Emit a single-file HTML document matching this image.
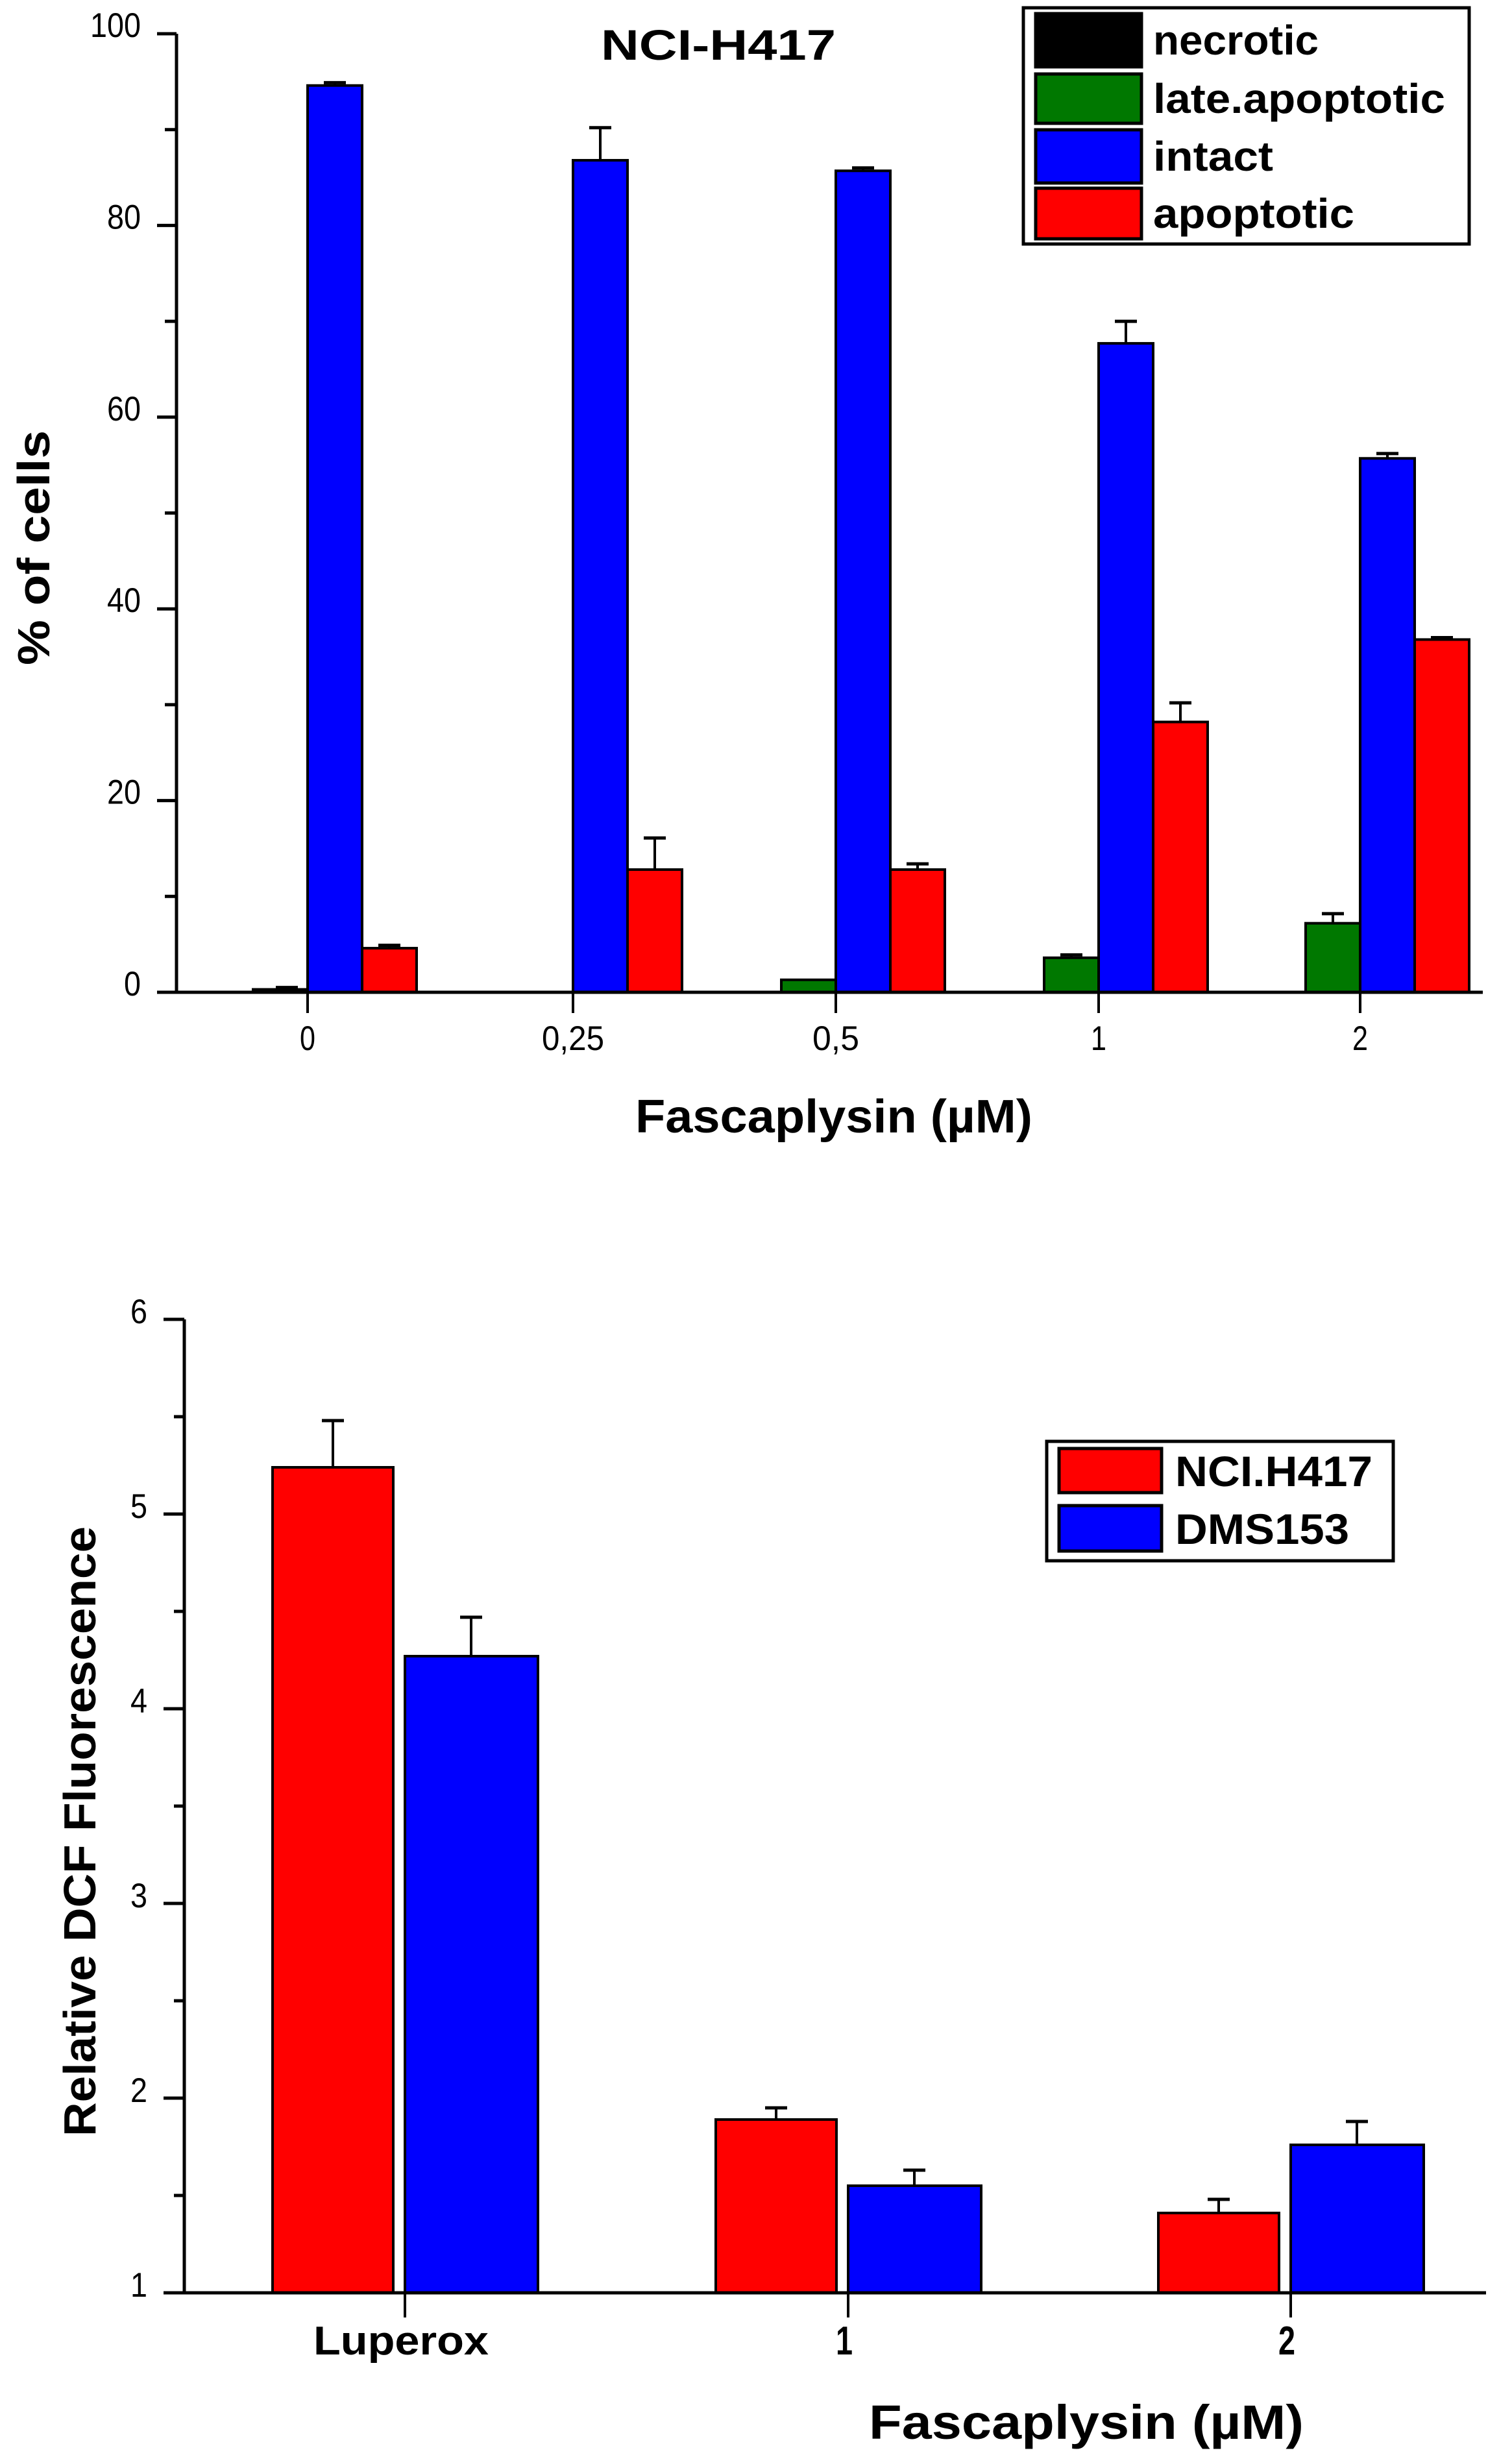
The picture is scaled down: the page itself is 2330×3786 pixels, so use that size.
<!DOCTYPE html>
<html><head><meta charset="utf-8"><style>
html,body{margin:0;padding:0;background:#fff;}
svg{display:block;}
text{font-family:"Liberation Sans",Arial,sans-serif;fill:#000;}
</style></head><body>
<svg id="s" width="2330" height="3786" viewBox="0 0 2330 3786" xmlns="http://www.w3.org/2000/svg">
<g id="c1"></g>
<g id="c2"></g>
</svg>
<script>
// Chart 1 data
const cats1 = ["0","0,25","0,5","1","2"];
const necrotic = [0.3,0,0,0,0];
const necroticErr = [0.2,0,0,0,0];
const late = [0,0,1.3,3.6,7.2];
const lateErr = [0,0,0,0.3,1.0];
const intact = [94.6,86.8,85.7,67.7,55.7];
const intactErr = [0.3,3.4,0.3,2.3,0.5];
const apopt = [4.6,12.8,12.8,28.2,36.8];
const apoptErr = [0.3,3.3,0.6,2.0,0.2];
const yTicks1 = [0,20,40,60,80,100];
// Chart 2 data
const cats2 = ["Luperox","1","2"];
const nci = [5.24,1.89,1.41];
const nciErr = [0.24,0.06,0.07];
const dms = [4.27,1.55,1.76];
const dmsErr = [0.2,0.08,0.12];
const yTicks2 = [1,2,3,4,5,6];

const NS="http://www.w3.org/2000/svg";
function mk(parent,tag,attrs,txt){const e=document.createElementNS(NS,tag);for(const k in attrs)e.setAttribute(k,attrs[k]);if(txt!==undefined)e.textContent=txt;parent.appendChild(e);return e;}

function errbar(g,cx,top,err,name,ys){
  if(err<=0) return;
  const t=ys(top), e=ys(top+err);
  const l=mk(g,'line',{x1:cx,x2:cx,y1:t,y2:e,stroke:'#000','stroke-width':4});
  
  
  const c=mk(g,'line',{x1:cx-17,x2:cx+17,y1:e,y2:e,stroke:'#000','stroke-width':5});
  
  
}
function bar(g,x,w,v,fill,name,ys,base){
  const t=ys(v), b=ys(base);
  const r=mk(g,'rect',{x:x,y:Math.min(t,b),width:w,height:Math.max(Math.abs(b-t),0.01),fill:fill,stroke:'#000','stroke-width':4});
  
  
}

// ---------- Chart 1 ----------
const g1=document.getElementById('c1');
const X0=272, XR=2285, Y0=1529, Y100=52;
const y1=v=>Y0-(v/100)*(Y0-Y100);
const tick1=[474,883,1288,1693,2096];
const BW=84;
cats1.forEach((c,i)=>{
  const t=tick1[i];
  if(late[i]>0){bar(g1,t-BW,BW,late[i],'#007800','bar-late-apoptotic-'+i,y1,0);errbar(g1,t-BW/2,late[i],lateErr[i],'late-apoptotic-'+i,y1);}
  if(necrotic[i]>0){bar(g1,t-BW,BW,necrotic[i],'#000','bar-necrotic-'+i,y1,0);errbar(g1,t-BW/2+10,necrotic[i],necroticErr[i],'necrotic-'+i,y1);}
  bar(g1,t,BW,intact[i],'#0000ff','bar-intact-'+i,y1,0);errbar(g1,t+BW/2,intact[i],intactErr[i],'intact-'+i,y1);
  bar(g1,t+BW,BW,apopt[i],'#ff0000','bar-apoptotic-'+i,y1,0);errbar(g1,t+BW*1.5,apopt[i],apoptErr[i],'apoptotic-'+i,y1);
  const tk=mk(g1,'line',{x1:t,x2:t,y1:Y0,y2:Y0+32,stroke:'#000','stroke-width':4});
  
  
  const lb=mk(g1,'text',{x:t,y:1618,'font-size':53,'text-anchor':'middle',textLength:c.length*24,lengthAdjust:'spacingAndGlyphs'},c);
  
  
});
for(let v=0;v<=100;v+=10){
  const major=v%20===0;
  const tk=mk(g1,'line',{x1:X0-(major?30:18),x2:X0,y1:y1(v),y2:y1(v),stroke:'#000','stroke-width':5});
  
  
}
yTicks1.forEach(v=>{
  const s=String(v);
  const lb=mk(g1,'text',{x:217,y:y1(v)+5,'font-size':53,'text-anchor':'end',textLength:s.length*26,lengthAdjust:'spacingAndGlyphs'},s);
  
  
});
{
const ax=mk(g1,'path',{d:`M${X0},${Y100} V${Y0} H${XR}`,fill:'none',stroke:'#000','stroke-width':5});


const tt=mk(g1,'text',{x:926,y:92,'font-size':66,'font-weight':'bold',textLength:362,lengthAdjust:'spacingAndGlyphs'},'NCI-H417');


const yt=mk(g1,'text',{x:0,y:0,'font-size':70,'font-weight':'bold',textLength:362,lengthAdjust:'spacingAndGlyphs','text-anchor':'middle',transform:'translate(76,844) rotate(-90)'},'% of cells');


const xt=mk(g1,'text',{x:979,y:1745,'font-size':72,'font-weight':'bold',textLength:612,lengthAdjust:'spacingAndGlyphs'},'Fascaplysin (µM)');


const lg=mk(g1,'g',{});


const lb=mk(lg,'rect',{x:1577,y:12,width:687,height:364,fill:'#fff',stroke:'#000','stroke-width':5});


const items=[['necrotic','#000',21,103,255],['late.apoptotic','#007800',114,190,450],['intact','#0000ff',200,282,185],['apoptotic','#ff0000',290,368,310]];
items.forEach(it=>{
  const sw=mk(lg,'rect',{x:1596,y:it[2],width:163,height:it[3]-it[2],fill:it[1],stroke:'#000','stroke-width':5});
  
  
  const tx=mk(lg,'text',{x:1777,y:(it[2]+it[3])/2+22,'font-size':64,'font-weight':'bold',textLength:it[4],lengthAdjust:'spacingAndGlyphs'},it[0]);
  
  
});
}

// ---------- Chart 2 ----------
const g2=document.getElementById('c2');
const AX=284, AR=2290, Y1=3533, Y6=2033;
const y2=v=>Y1-(v-1)/5*(Y1-Y6);
const tick2=[624,1307,1989];
cats2.forEach((c,i)=>{
  const t=tick2[i];
  bar(g2,t-204,186,nci[i],'#ff0000','bar-nci-h417-'+i,y2,1);errbar(g2,t-111,nci[i],nciErr[i],'nci-h417-'+i,y2);
  bar(g2,t,205,dms[i],'#0000ff','bar-dms153-'+i,y2,1);errbar(g2,t+102,dms[i],dmsErr[i],'dms153-'+i,y2);
  const tk=mk(g2,'line',{x1:t,x2:t,y1:Y1,y2:Y1+38,stroke:'#000','stroke-width':4});
  
  
  const lb=mk(g2,'text',{x:t-6,y:3628,'font-size':62,'font-weight':'bold','text-anchor':'middle',textLength:c.length>1?270:26,lengthAdjust:'spacingAndGlyphs'},c);
  
  
});
for(let v=1;v<=6;v+=0.5){
  const major=Number.isInteger(v);
  const tk=mk(g2,'line',{x1:AX-(major?32:16),x2:AX,y1:y2(v),y2:y2(v),stroke:'#000','stroke-width':5});
  
  
}
yTicks2.forEach(v=>{
  const lb=mk(g2,'text',{x:227,y:y2(v)+6,'font-size':53,'text-anchor':'end',textLength:26,lengthAdjust:'spacingAndGlyphs'},String(v));
  
  
});
{
const ax=mk(g2,'path',{d:`M${AX},${Y6} V${Y1} H${AR}`,fill:'none',stroke:'#000','stroke-width':5});


const yt=mk(g2,'text',{x:0,y:0,'font-size':70,'font-weight':'bold',textLength:940,lengthAdjust:'spacingAndGlyphs','text-anchor':'middle',transform:'translate(147,2822) rotate(-90)'},'Relative DCF Fluorescence');


const xt=mk(g2,'text',{x:1339,y:3758,'font-size':74,'font-weight':'bold',textLength:670,lengthAdjust:'spacingAndGlyphs'},'Fascaplysin (µM)');


const lg=mk(g2,'g',{});


const lb=mk(lg,'rect',{x:1613,y:2221,width:534,height:184,fill:'#fff',stroke:'#000','stroke-width':5});


[['NCI.H417','#ff0000',2232,2300,304],['DMS153','#0000ff',2320,2390,268]].forEach(it=>{
  const sw=mk(lg,'rect',{x:1632,y:it[2],width:158,height:it[3]-it[2],fill:it[1],stroke:'#000','stroke-width':5});
  
  
  const tx=mk(lg,'text',{x:1811,y:(it[2]+it[3])/2+24,'font-size':66,'font-weight':'bold',textLength:it[4],lengthAdjust:'spacingAndGlyphs'},it[0]);
  
  
});
}
</script>
</body></html>
